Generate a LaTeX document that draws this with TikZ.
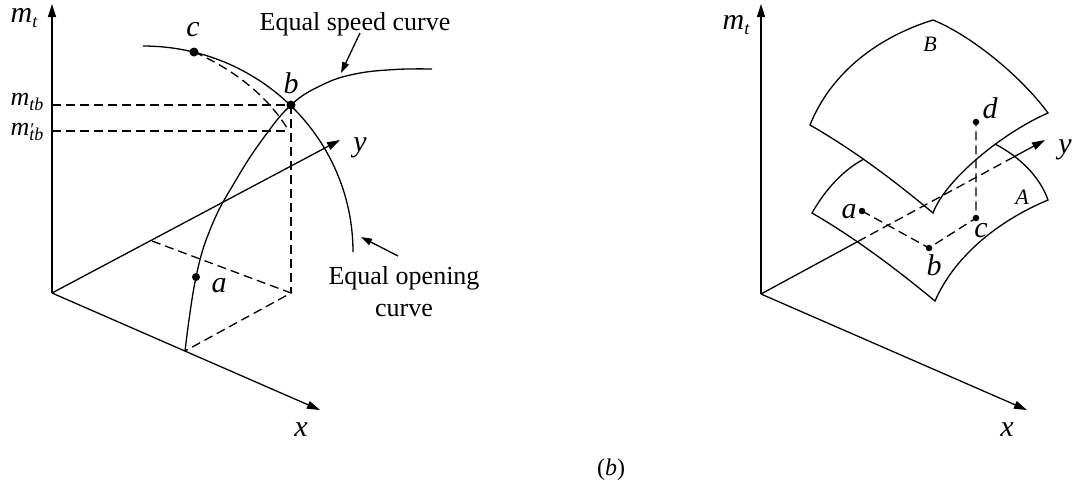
\documentclass[tikz,border=0pt]{standalone}
\usepackage{fontspec}
\setmainfont{Liberation Serif}
\usetikzlibrary{arrows.meta}
\begin{document}
\begin{tikzpicture}[x=1pt,y=-1pt,line width=1.3pt,
  ax/.style={-{Triangle[length=13pt,width=8pt]}},
  pointer/.style={-{Triangle[length=11pt,width=7pt]}},
  dsh/.style={dash pattern=on 9pt off 5pt},
  lab/.style={inner sep=0pt,font=\fontsize{30}{30}\selectfont\itshape},
  mlab/.style={inner sep=0pt,font=\fontsize{26}{26}\selectfont\itshape},
  ann/.style={inner sep=0pt,font=\fontsize{26}{32}\selectfont,align=center},
  surf/.style={inner sep=0pt,font=\fontsize{22}{22}\selectfont\itshape},
  bigdot/.style={circle,fill,inner sep=0pt,minimum size=9pt},
  middot/.style={circle,fill,inner sep=0pt,minimum size=8pt},
  smalldot/.style={circle,fill,inner sep=0pt,minimum size=6.5pt}]
\useasboundingbox (0,0) rectangle (1073,488);

% ---------------- left panel ----------------
\coordinate (O1) at (52,293);
\coordinate (Z1) at (52,4);
\coordinate (X1) at (320,410);
\coordinate (Y1) at (340,140);
\draw[ax] (O1) -- (Z1);
\draw[ax] (O1) -- (X1);
\draw[ax] (O1) -- (Y1);

\node[bigdot] (b1) at (291,105) {};
\node[bigdot] (c1) at (194,52) {};
\node[middot] (a1) at (196,277) {};

% equal opening curve
\draw (143,46) arc[start angle=90,end angle=0,x radius=210pt,y radius=206pt];
% equal speed curve
\draw plot[smooth,tension=0.7] coordinates {(185,351) (196,277) (212,225) (236,180) (262,140) (291,105) (322,85) (355,74) (395,69.5) (432,69)};

% dashed construction
\coordinate (fy) at (152,241);
\coordinate (fx) at (185,351);
\coordinate (fc) at (291,293);
\coordinate (mtb) at (52,105);
\coordinate (mtbp) at (52,131);
\coordinate (mtbpe) at (288,131);
\draw[dsh] (fy) -- (fc) -- (fx);
\draw[dsh] (b1.center) -- (fc);
\draw[dsh] (mtb) -- (b1.center);
\draw[dsh] (mtbp) -- (mtbpe);
\draw[dsh] (c1.center) .. controls (235,70) and (268,97) .. (287,128);

% labels
\node[lab] (lmt1) at (24,18) {m\raisebox{-0.35ex}{\fontsize{18}{18}\selectfont t}};
\node[mlab] (lmtb) at (27,102) {m\raisebox{-0.35ex}{\fontsize{18}{18}\selectfont tb}};
\node[mlab] (lmtbp) at (27,132) {m\rlap{\fontsize{18}{18}\selectfont\char"2032}\raisebox{-0.35ex}{\fontsize{18}{18}\selectfont tb}};
\node[lab] (lx1) at (301,430) {x};
\node[lab] (ly1) at (360,148) {y};
\node[lab] (lc1) at (193,30) {c};
\node[lab] (lb1) at (291,83) {b};
\node[lab] (la1) at (219,286) {a};

\node[ann] (eqs) at (355,24) {Equal speed curve};
\coordinate (s1) at (360,33);
\coordinate (s2) at (341,73);
\draw[pointer] (s1) -- (s2);
\node[ann] (eqo) at (404,292) {Equal opening\\curve};
\coordinate (o1) at (398,256);
\coordinate (o2) at (361,237);
\draw[pointer] (o1) -- (o2);

% ---------------- right panel ----------------
\coordinate (O2) at (761,294);
\coordinate (Z2) at (761,4);
\coordinate (X2) at (1027,410);
\coordinate (ya) at (858,241.4);
\coordinate (yb) at (1012,157.9);
\coordinate (Y2) at (1045,140);
\draw[ax] (O2) -- (Z2);
\draw[ax] (O2) -- (X2);
\draw (O2) -- (ya);
\draw[dsh] (ya) -- (yb);
\draw[ax] (yb) -- (Y2);

% surface B
\draw (810,125) .. controls (830,75) and (875,38) .. (933,20)
      .. controls (970,35) and (1020,75) .. (1048,113)
      .. controls (1002,133) and (945,180) .. (933,213)
      .. controls (890,177) and (850,148) .. (810,125) -- cycle;
% surface A (visible parts)
\draw (864,159) .. controls (843,170) and (825,190) .. (812,213)
      .. controls (855,238) and (895,268) .. (935,301)
      .. controls (955,255) and (1000,220) .. (1048,200)
      .. controls (1040,177) and (1020,157) .. (995,144);

% points
\node[smalldot] (a2) at (862,211) {};
\node[smalldot] (b2) at (929,248) {};
\node[smalldot] (c2) at (976,218) {};
\node[smalldot] (d2) at (976,122) {};
\draw[dsh] (a2.center) -- (b2.center) -- (c2.center) -- (d2.center);

\node[lab] (lmt2) at (736,25) {m\raisebox{-0.35ex}{\fontsize{18}{18}\selectfont t}};
\node[lab] (lx2) at (1007,430) {x};
\node[lab] (ly2) at (1065,150) {y};
\node[lab] (la2) at (849,212) {a};
\node[lab] (lb2) at (934,265) {b};
\node[lab] (lc2) at (981,231) {c};
\node[lab] (ld2) at (990,108) {d};
\node[surf] (lB) at (930,44) {B};
\node[surf] (lA) at (1022,197) {A};

% caption
\node[inner sep=0pt,font=\fontsize{24}{24}\selectfont] (cap) at (611,470) {(\textit{b})};
\end{tikzpicture}
\end{document}
